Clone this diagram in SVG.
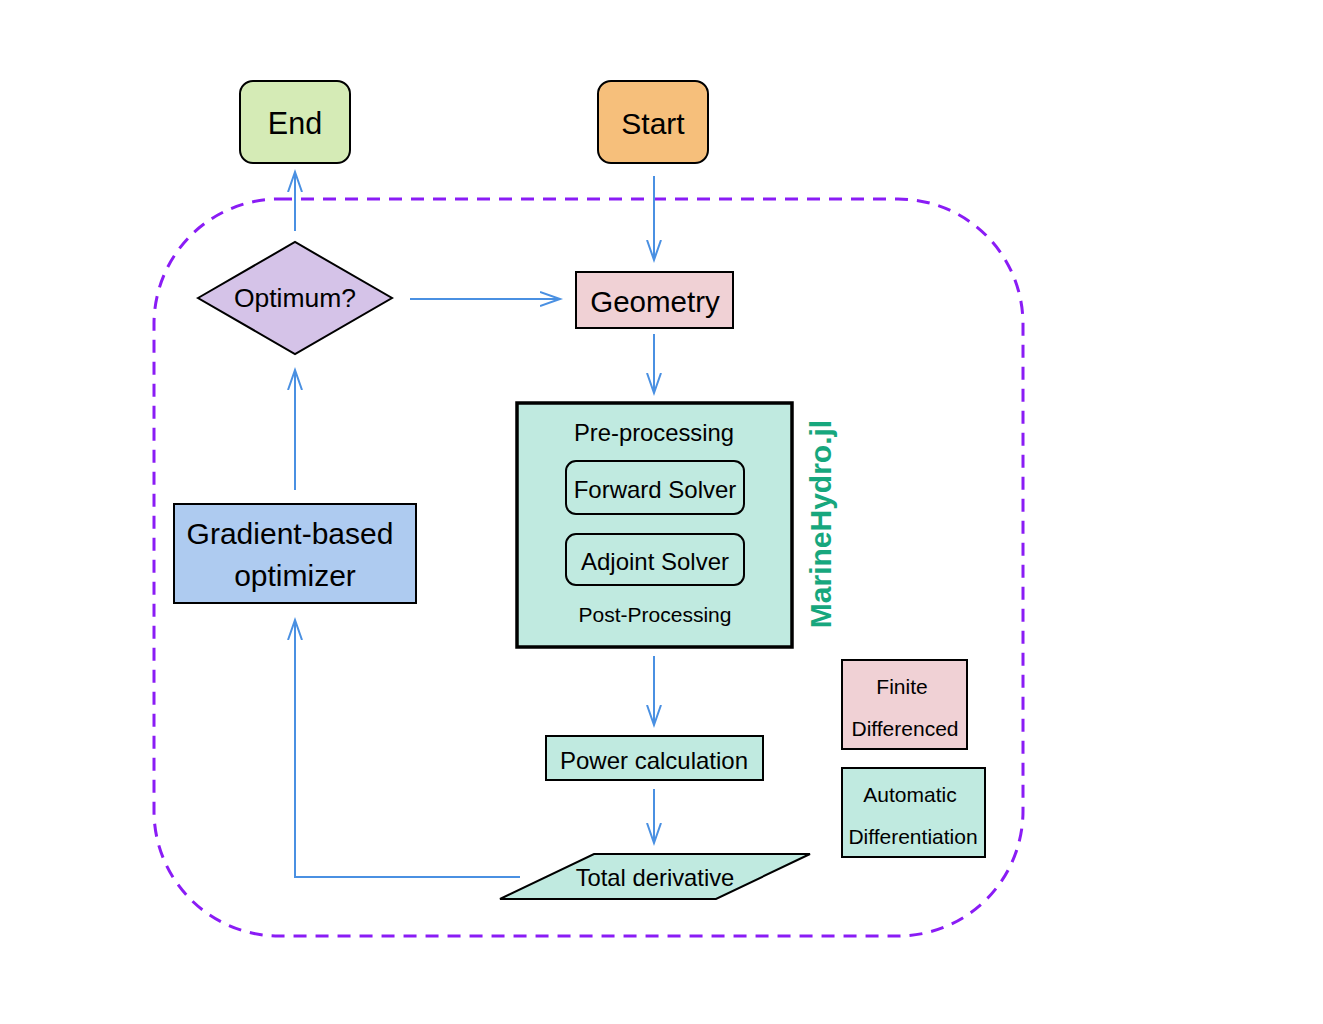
<svg xmlns="http://www.w3.org/2000/svg" width="1323" height="1024" viewBox="0 0 1323 1024">
<style>
text{font-family:"Liberation Sans",Arial,sans-serif;fill:#000;text-anchor:middle;dominant-baseline:central}
.n{stroke:#000;stroke-width:2}
.c{fill:none;stroke:#4a90e2;stroke-width:2}
</style>
<defs>
<marker id="a" markerUnits="userSpaceOnUse" markerWidth="24" markerHeight="16" refX="20" refY="7" orient="auto" viewBox="0 0 24 14">
<path d="M0,0 L20,7 L0,14" fill="none" stroke="#4a90e2" stroke-width="2"/>
</marker>
</defs>
<rect x="154" y="199" width="869" height="737" rx="125" fill="none" stroke="#8a1cf5" stroke-width="3" stroke-dasharray="13 9"/>
<g id="connectors">
<line class="c" x1="654" y1="176" x2="654" y2="260" marker-end="url(#a)"/>
<line class="c" x1="654" y1="334" x2="654" y2="393" marker-end="url(#a)"/>
<line class="c" x1="654" y1="656" x2="654" y2="725" marker-end="url(#a)"/>
<line class="c" x1="654" y1="789" x2="654" y2="843" marker-end="url(#a)"/>
<polyline class="c" points="520,877 295,877 295,620" marker-end="url(#a)"/>
<line class="c" x1="295" y1="490" x2="295" y2="370" marker-end="url(#a)"/>
<line class="c" x1="295" y1="231" x2="295" y2="172" marker-end="url(#a)"/>
<line class="c" x1="410" y1="299" x2="560" y2="299" marker-end="url(#a)"/>
</g>
<g id="end"><rect class="n" x="240" y="81" width="110" height="82" rx="13" fill="#d5ebb6"/><text x="295" y="123" font-size="30.5">End</text></g>
<g id="start"><rect class="n" x="598" y="81" width="110" height="82" rx="13" fill="#f6bf7b"/><text x="653" y="123" font-size="30">Start</text></g>
<g id="optimum"><polygon class="n" points="198,298 295,242 392,298 295,354" fill="#d5c3e8"/><text x="295" y="298" font-size="26.5">Optimum?</text></g>
<g id="geometry"><rect class="n" x="576" y="272" width="157" height="56" fill="#f0d1d5"/><text x="655" y="301" font-size="29.5">Geometry</text></g>
<g id="marinehydro">
<rect x="517" y="403" width="275" height="244" fill="#c0eae0" stroke="#000" stroke-width="3.5"/>
<text x="654" y="432" font-size="23.8">Pre-processing</text>
<rect class="n" x="566" y="461" width="178" height="53" rx="10" fill="#c0eae0"/>
<text x="655" y="489" font-size="24">Forward Solver</text>
<rect class="n" x="566" y="534" width="178" height="51" rx="10" fill="#c0eae0"/>
<text x="655" y="561" font-size="24">Adjoint Solver</text>
<text x="655" y="614" font-size="21">Post-Processing</text>
<text x="820" y="524" font-size="30" font-weight="bold" transform="rotate(-90 820 524)" style="fill:#17a77d">MarineHydro.jl</text>
</g>
<g id="optimizer"><rect class="n" x="174" y="504" width="242" height="99" fill="#aecbf0"/><text x="290" y="533" font-size="30">Gradient-based</text><text x="295" y="575" font-size="30">optimizer</text></g>
<g id="power"><rect class="n" x="546" y="736" width="217" height="44" fill="#c0eae0"/><text x="654" y="760" font-size="24">Power calculation</text></g>
<g id="total"><polygon class="n" points="500,899 594,854 810,854 716,899" fill="#c0eae0"/><text x="655" y="877" font-size="23.8">Total derivative</text></g>
<g id="fd"><rect class="n" x="842" y="660" width="125" height="89" fill="#f0d1d5"/><text x="902" y="686" font-size="21">Finite</text><text x="905" y="728" font-size="21">Differenced</text></g>
<g id="ad"><rect class="n" x="842" y="768" width="143" height="89" fill="#c0eae0"/><text x="910" y="794" font-size="21">Automatic</text><text x="913" y="836" font-size="21">Differentiation</text></g>
</svg>
